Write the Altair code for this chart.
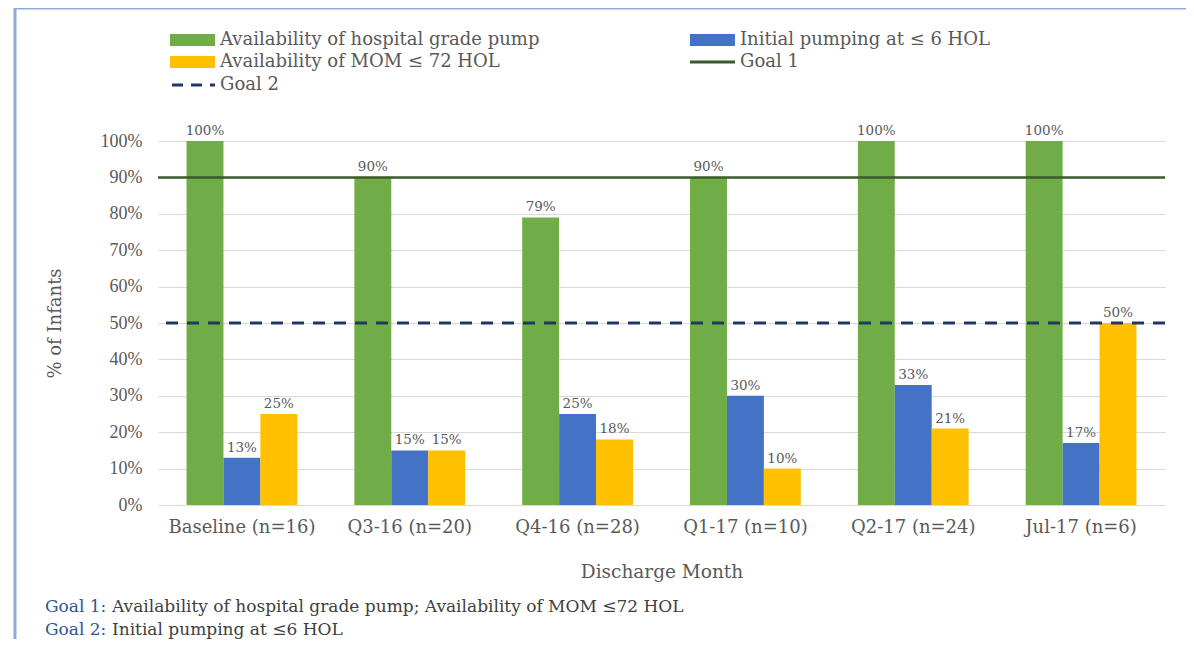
import altair as alt
import pandas as pd

# ---- data ----
categories = ["Baseline (n=16)", "Q3-16 (n=20)", "Q4-16 (n=28)", "Q1-17 (n=10)", "Q2-17 (n=24)", "Jul-17 (n=6)"]
series = ["Availability of hospital grade pump", "Initial pumping at ≤ 6 HOL", "Availability of MOM ≤ 72 HOL"]
pump = [100, 90, 79, 90, 100, 100]
initial = [13, 15, 25, 30, 33, 17]
mom = [25, 15, 18, 10, 21, 50]
goal1 = 90
goal2 = 50
y_ticks = [0, 10, 20, 30, 40, 50, 60, 70, 80, 90, 100]
legend_labels = series + ["Goal 1", "Goal 2"]
foot1 = ["Goal 1:", "Availability of hospital grade pump; Availability of MOM ≤72 HOL"]
foot2 = ["Goal 2:", "Initial pumping at ≤6 HOL"]

colors = ["#70AD47", "#4472C4", "#FFC000"]
goal1_color = "#3A5A2A"
goal2_color = "#203864"
serif = "DejaVu Serif"
txt = "#595959"

rows = []
for s, vals in zip(series, [pump, initial, mom]):
    for c, v in zip(categories, vals):
        rows.append({"cat": c, "series": s, "value": v, "label": f"{v}%"})
df = pd.DataFrame(rows)

W, H = 1007, 364

x = alt.X("cat:N", sort=categories, title="Discharge Month",
          scale=alt.Scale(paddingInner=0.34, paddingOuter=0.17),
          axis=alt.Axis(labelAngle=0, labelFont=serif, labelFontSize=18, labelColor=txt,
                        labelPadding=13, ticks=False, domainColor="#D9D9D9", domainWidth=1,
                        titleFont=serif, titleFontSize=18.5, titleColor=txt, titleFontWeight="normal",
                        titleY=66, titleBaseline="middle"))
y_axis = alt.Axis(values=y_ticks, labelExpr="datum.value + '%'", labelFont="Liberation Serif",
                  labelFontSize=18, labelColor=txt, labelPadding=16, ticks=False, domain=False,
                  labelOverlap=False, gridColor="#D9D9D9", gridWidth=1,
                  titleFont=serif, titleFontSize=18, titleColor=txt, titleFontWeight="normal",
                  titleX=-103, titleY=H / 2, titleAngle=-90, titleAlign="center",
                  titleBaseline="middle")
y = alt.Y("value:Q", scale=alt.Scale(domain=[0, 100], nice=False), title="% of Infants", axis=y_axis)
xo = alt.XOffset("series:N", sort=series, scale=alt.Scale(domain=series, paddingInner=0, paddingOuter=0))
color = alt.Color("series:N", scale=alt.Scale(domain=series, range=colors), legend=None)

bars = alt.Chart(df).mark_bar().encode(x=x, xOffset=xo, y=y, color=color)
labels = alt.Chart(df).mark_text(font=serif, fontSize=13.5, color=txt, dy=-10, baseline="middle").encode(
    x=x, xOffset=xo, y=y, text="label:N")

g1 = alt.Chart(pd.DataFrame({"value": [goal1]})).mark_rule(color=goal1_color, strokeWidth=2.5).encode(y=y)
g2 = alt.Chart(pd.DataFrame({"value": [goal2]})).mark_rule(color=goal2_color, strokeWidth=3,
                                                           strokeDash=[12, 9]).encode(y=y)

layers = [bars, g1, g2, labels]

# ---- manual legend ----
leg_pos = [(12, -101), (532, -101), (12, -79), (532, -79), (12, -56)]
for i, (lab, (lx, ly)) in enumerate(zip(legend_labels, leg_pos)):
    d = pd.DataFrame({"label": [lab]})
    if i < 3:
        sym = alt.Chart(d).mark_rect(color=colors[i]).encode(
            x=alt.value(lx), x2=alt.value(lx + 45), y=alt.value(ly - 6), y2=alt.value(ly + 6))
    elif i == 3:
        sym = alt.Chart(d).mark_rule(color=goal1_color, strokeWidth=3).encode(
            x=alt.value(lx), x2=alt.value(lx + 45), y=alt.value(ly))
    else:
        sym = alt.Chart(d).mark_rule(color=goal2_color, strokeWidth=3, strokeDash=[11, 8]).encode(
            x=alt.value(lx + 2), x2=alt.value(lx + 45), y=alt.value(ly))
    t = alt.Chart(d).mark_text(font=serif, fontSize=18, color=txt, align="left", baseline="middle").encode(
        x=alt.value(lx + 50), y=alt.value(ly), text="label:N")
    layers += [sym, t]

# ---- footnotes ----
for (head, rest), fy in zip([foot1, foot2], [466, 489]):
    d = pd.DataFrame({"head": [head], "rest": [rest]})
    layers.append(alt.Chart(d).mark_text(font=serif, fontSize=17, color="#2F5496", align="left",
                                         baseline="middle").encode(x=alt.value(-113), y=alt.value(fy), text="head:N"))
    layers.append(alt.Chart(d).mark_text(font=serif, fontSize=17, color="#404040", align="left",
                                         baseline="middle").encode(x=alt.value(-46), y=alt.value(fy), text="rest:N"))

# ---- frame ----
fd = pd.DataFrame({"a": [0]})
layers.append(alt.Chart(fd).mark_rule(color="#8EAADB", strokeWidth=3).encode(
    x=alt.value(-143), x2=alt.value(1030), y=alt.value(-133)))
layers.append(alt.Chart(fd).mark_rule(color="#8EAADB", strokeWidth=3).encode(
    x=alt.value(-143), y=alt.value(-133), y2=alt.value(500)))

chart = alt.layer(*layers).properties(
    width=W, height=H,
    autosize=alt.AutoSizeParams(type="none"),
    padding={"left": 150, "top": 133, "right": 21, "bottom": 134},
    background="white",
).configure_view(stroke=None)

chart.save("out.html", embed_options={"renderer": "svg", "actions": False})
